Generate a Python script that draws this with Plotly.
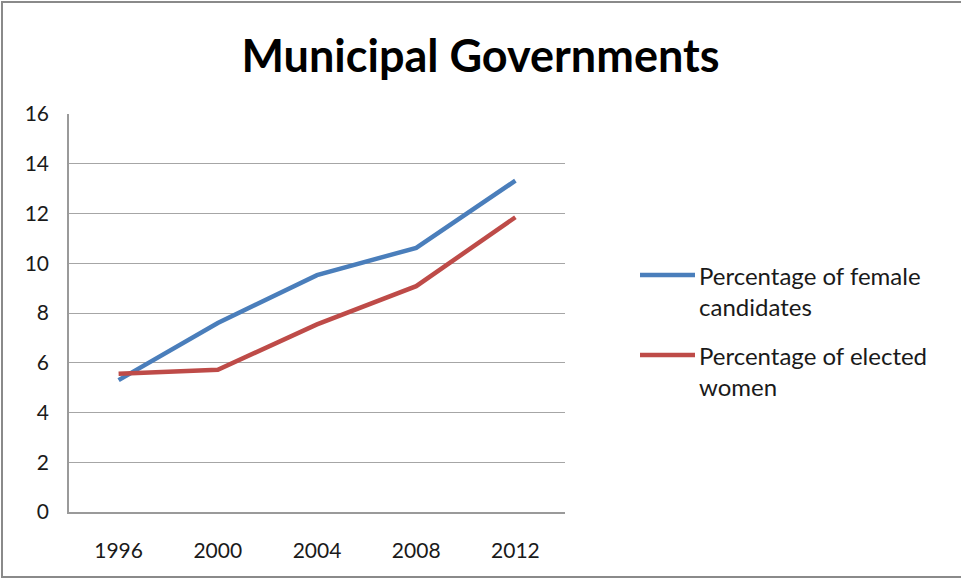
import plotly.graph_objects as go

# Election years and series values (percent)
years = ["1996", "2000", "2004", "2008", "2012"]
female_candidates = [5.3, 7.6, 9.52, 10.62, 13.32]
elected_women = [5.56, 5.72, 7.54, 9.08, 11.85]
series_names = ["Percentage of female<br>candidates", "Percentage of elected<br>women"]
series_colors = ["#4A7EBB", "#BE4B48"]
y_ticks = [0, 2, 4, 6, 8, 10, 12, 14, 16]

W, H = 961, 579
L, R, T, B = 69, W - 565, 114, H - 512
pw, ph = W - L - R, H - T - B

def px_x(p):
    return (p - L) / pw

def px_y(p):
    return (H - B - p) / ph

font_family = "Lato, 'Open Sans', sans-serif"

fig = go.Figure()
for vals, name, color in zip([female_candidates, elected_women], series_names, series_colors):
    fig.add_trace(go.Scatter(x=years, y=vals, mode="lines", name=name,
                             line=dict(color=color, width=4.5), showlegend=False))

# legend drawn beside the plot: long line sample plus wrapped label
legend_rows = [275, 355]
for name, color, row in zip(series_names, series_colors, legend_rows):
    fig.add_shape(type="line", xref="paper", yref="paper",
                  x0=px_x(640), x1=px_x(695), y0=px_y(row), y1=px_y(row),
                  line=dict(color=color, width=4.5))
    fig.add_annotation(xref="paper", yref="paper", x=px_x(697), y=px_y(row - 16),
                       xanchor="left", yanchor="top", align="left", showarrow=False,
                       text=name, font=dict(family=font_family, size=24, color="#1a1a1a"))

# outer chart border (right edge runs off the page)
fig.add_shape(type="rect", xref="paper", yref="paper",
              x0=px_x(2), x1=px_x(975), y0=px_y(577), y1=px_y(2),
              line=dict(color="#8A8A8A", width=2), layer="below")

fig.update_layout(
    width=W, height=H,
    margin=dict(l=L, r=R, t=T, b=B),
    paper_bgcolor="white", plot_bgcolor="white",
    font=dict(family=font_family, color="#1a1a1a", size=21),
    title=dict(text="<b>Municipal Governments</b>", x=0.5, xref="container",
               y=1 - 56 / H, yref="container", yanchor="middle", xanchor="center",
               font=dict(family=font_family, size=45, color="black")),
    showlegend=False,
    xaxis=dict(type="category", range=[-0.5, 4.5], showgrid=False,
               showline=True, linecolor="#9A9A9A", linewidth=1.5,
               ticks="", tickfont=dict(size=21), ticklabelstandoff=19),
    yaxis=dict(range=[0, 16], tickvals=y_ticks, showgrid=True,
               gridcolor="#A6A6A6", gridwidth=1.2, zeroline=False,
               showline=True, linecolor="#9A9A9A", linewidth=1.5,
               ticks="", tickfont=dict(size=21), ticklabelstandoff=14),
)

fig.write_html("out.html")
